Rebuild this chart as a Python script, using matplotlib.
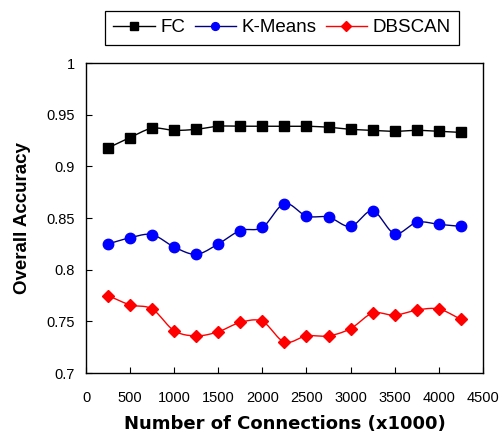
import numpy as np
import matplotlib
matplotlib.use("Agg")
import matplotlib.pyplot as plt
from matplotlib.lines import Line2D

connections = [250, 500, 750, 1000, 1250, 1500, 1750, 2000, 2250, 2500,
               2750, 3000, 3250, 3500, 3750, 4000, 4250]
fc = [0.918, 0.928, 0.937, 0.935, 0.936, 0.939, 0.939, 0.939, 0.939, 0.939,
      0.938, 0.936, 0.935, 0.934, 0.935, 0.934, 0.933]
kmeans = [0.825, 0.831, 0.834, 0.822, 0.815, 0.825, 0.838, 0.841, 0.864, 0.852,
          0.851, 0.842, 0.857, 0.835, 0.846, 0.844, 0.842]
dbscan = [0.775, 0.766, 0.762, 0.741, 0.736, 0.740, 0.749, 0.750, 0.730, 0.736,
          0.736, 0.743, 0.758, 0.756, 0.761, 0.762, 0.752]

yticks = [0.7, 0.75, 0.8, 0.85, 0.9, 0.95, 1.0]
ytick_labels = ["0.7", "0.75", "0.8", "0.85", "0.9", "0.95", "1"]
xticks = [0, 500, 1000, 1500, 2000, 2500, 3000, 3500, 4000, 4500]


def smooth(x, y, n=12):
    x = np.asarray(x, float)
    y = np.asarray(y, float)
    px = np.concatenate([[2 * x[0] - x[1]], x, [2 * x[-1] - x[-2]]])
    py = np.concatenate([[2 * y[0] - y[1]], y, [2 * y[-1] - y[-2]]])
    xs, ys = [], []
    for i in range(1, len(px) - 2):
        t = np.linspace(0, 1, n, endpoint=False)
        for p, out in ((px, xs), (py, ys)):
            p0, p1, p2, p3 = p[i - 1], p[i], p[i + 1], p[i + 2]
            out.extend(0.5 * ((2 * p1) + (-p0 + p2) * t
                              + (2 * p0 - 5 * p1 + 4 * p2 - p3) * t ** 2
                              + (-p0 + 3 * p1 - 3 * p2 + p3) * t ** 3))
    xs.append(x[-1])
    ys.append(y[-1])
    return np.array(xs), np.array(ys)


fig = plt.figure(figsize=(5.03, 4.42), dpi=100)
ax = fig.add_axes([0.171, 0.156, 0.789, 0.701])

series = [
    ("FC", fc, "black", "black", "s", 7),
    ("K-Means", kmeans, "#000080", "blue", "o", 7.5),
    ("DBSCAN", dbscan, "red", "red", "D", 6.5),
]
handles = []
for name, vals, lc, mc, mk, ms in series:
    sx, sy = smooth(connections, vals)
    ax.plot(sx, sy, color=lc, lw=1.0, zorder=2)
    ax.plot(connections, vals, ls="none", marker=mk, ms=ms, color=mc,
            markeredgecolor=mc, zorder=3)
    handles.append(Line2D([0], [0], color=lc, lw=1.0, marker=mk, ms=ms * 0.75,
                          markerfacecolor=mc, markeredgecolor=mc))

ax.set_xlim(0, 4500)
ax.set_ylim(0.7, 1.0)
ax.set_xticks(xticks)
ax.set_xticklabels([str(v) for v in xticks], fontsize=10.5, family="Liberation Sans")
ax.set_yticks(yticks)
ax.set_yticklabels(ytick_labels, fontsize=10.5, family="Liberation Sans")
ax.tick_params(axis="y", direction="in", length=4, width=0.8, pad=8)
ax.tick_params(axis="x", direction="in", length=4, width=0.8, pad=13)
for s in ax.spines.values():
    s.set_linewidth(1.0)

ax.set_xlabel("Number of Connections (x1000)", fontsize=13, fontweight="bold",
              family="DejaVu Sans", labelpad=7)
ax.set_ylabel("Overall Accuracy", fontsize=13.5, fontweight="bold",
              family="Liberation Sans", labelpad=11)

leg = fig.legend(handles, [s[0] for s in series], loc="center",
                 bbox_to_anchor=(0.561, 0.937), ncol=3, frameon=True,
                 fancybox=False, edgecolor="black", framealpha=1,
                 prop={"family": "Liberation Sans", "size": 13.5},
                 handlelength=2.2, handletextpad=0.3, columnspacing=0.5,
                 borderpad=0.45)
leg.get_frame().set_linewidth(0.9)

fig.savefig("out.png", dpi=100)
